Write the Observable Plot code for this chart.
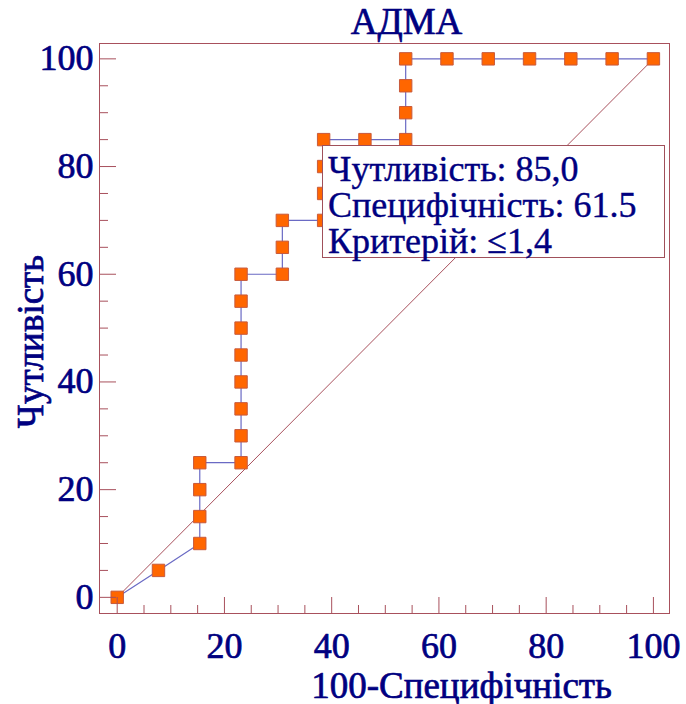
<!DOCTYPE html>
<html><head><meta charset="utf-8">
<script src="https://cdn.jsdelivr.net/npm/d3@7"></script>
<script src="https://cdn.jsdelivr.net/npm/@observablehq/plot@0.6"></script>
<style>
html,body{margin:0;padding:0;background:#fff;}
#chart{position:relative;width:686px;height:704px;}
#legend{position:absolute;left:322px;top:145px;width:336px;height:106px;border:1px solid #a0505a;background:#fff;
  font-family:"Liberation Serif","Times New Roman",serif;font-size:36px;color:#000080;line-height:36px;padding:5px 0 0 5px;white-space:nowrap;
  -webkit-text-stroke:0.4px #000080;}
</style></head><body><div id="chart"></div>
<script>
const title = "АДМА";
const xLabel = "100-Специфічність";
const yLabel = "Чутливість";
// 100 - specificity and sensitivity of each ROC point
const fpr  = [0, 7.7, 15.4, 15.4, 15.4, 15.4, 23.1, 23.1, 23.1, 23.1, 23.1, 23.1, 23.1, 23.1, 30.8, 30.8, 30.8, 38.5, 38.5, 38.5, 38.5, 46.2, 53.8, 53.8, 53.8, 53.8, 61.5, 69.2, 76.9, 84.6, 92.3, 100];
const sens = [0, 5, 10, 15, 20, 25, 25, 30, 35, 40, 45, 50, 55, 60, 60, 65, 70, 70, 75, 80, 85, 85, 85, 90, 95, 100, 100, 100, 100, 100, 100, 100];
const diagonal = [0, 100];
const majorTicks = [0, 20, 40, 60, 80, 100];
const minorTicks = [5, 10, 15, 25, 30, 35, 45, 50, 55, 65, 70, 75, 85, 90, 95];
const legendLabels = ["Чутливість", "Специфічність", "Критерій"];
const legendValues = ["85,0", "61.5", "≤1,4"];

const ink = "#000080";
const axisColor = "#a8505c";
const font = '"Liberation Serif","Times New Roman",serif';
const data = fpr.map((x, i) => ({x, y: sens[i]}));
const txt = {fontFamily: font, fill: ink, stroke: ink, strokeWidth: 0.7};

const chart = Plot.plot({
  width: 686, height: 704,
  marginLeft: 99, marginRight: 17, marginTop: 43, marginBottom: 91,
  style: {fontFamily: font, fontSize: "35px", color: ink, background: "#fff"},
  x: {domain: [-3.3, 103], label: null},
  y: {domain: [-3, 102.85], label: null},
  marks: [
    Plot.line(diagonal, {x: d => d, y: d => d, stroke: "#a8505c", strokeWidth: 1}),
    Plot.line(data, {x: "x", y: "y", stroke: "#6a6ac4", strokeWidth: 1.2}),
    Plot.dot(data, {x: "x", y: "y", symbol: "square", r: 7, fill: "#ff6600", stroke: "#c85a3c", strokeWidth: 1}),
    Plot.frame({stroke: axisColor}),
    Plot.axisX(minorTicks, {tickSize: -8, stroke: axisColor, fill: "none", label: null}),
    Plot.axisX(majorTicks, {tickSize: -16, stroke: axisColor, fill: "none", label: null}),
    Plot.axisX(majorTicks, {tickSize: 0, tickPadding: 19, fill: ink, textStroke: ink, textStrokeWidth: 0.7, fontSize: 36, fontFamily: font, label: null}),
    Plot.axisY(minorTicks, {tickSize: -9, stroke: axisColor, fill: "none", label: null}),
    Plot.axisY(majorTicks, {tickSize: -17, stroke: axisColor, fill: "none", label: null}),
    Plot.axisY(majorTicks, {tickSize: 0, tickPadding: 6, fill: ink, textStroke: ink, textStrokeWidth: 0.7, fontSize: 36, fontFamily: font, label: null}),
    Plot.text([title], {...txt, text: d => d, frameAnchor: "top", textAnchor: "middle", dx: 22, dy: -10, lineAnchor: "bottom", fontSize: 37}),
    Plot.text([xLabel], {...txt, text: d => d, frameAnchor: "bottom", textAnchor: "middle", dx: 77, dy: 84, lineAnchor: "bottom", fontSize: 37}),
    Plot.text([yLabel], {...txt, text: d => d, frameAnchor: "left", textAnchor: "middle", rotate: -90, dx: -57, dy: 13, lineAnchor: "bottom", fontSize: 37})
  ]
});
const host = document.getElementById("chart");
host.appendChild(chart);
const legend = document.createElement("div");
legend.id = "legend";
legend.innerHTML = legendLabels.map((l, i) => `${l}: ${legendValues[i]}`).join("<br>");
host.appendChild(legend);
</script></body></html>
